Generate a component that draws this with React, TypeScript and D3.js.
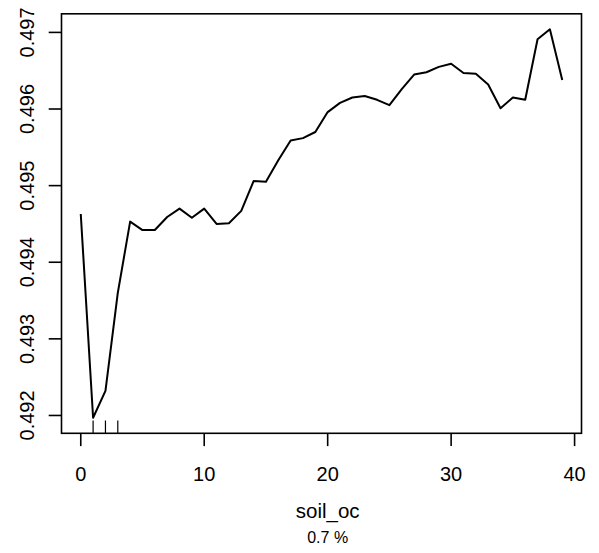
import React from "react";
import * as d3 from "d3";

const xValues: number[] = Array.from({ length: 40 }, (_, i) => i);
const yValues: number[] = [
  0.49463, 0.49197, 0.49232, 0.4936, 0.49453, 0.49442, 0.49442, 0.49459, 0.4947, 0.49458,
  0.4947, 0.4945, 0.49451, 0.49467, 0.49506, 0.49505, 0.49533, 0.49559, 0.49562, 0.4957,
  0.49596, 0.49608, 0.49615, 0.49617, 0.49612, 0.49605, 0.49626, 0.49645, 0.49648, 0.49655,
  0.49659, 0.49647, 0.49646, 0.49632, 0.49601, 0.49615, 0.49612, 0.49691, 0.49704, 0.49638,
];
const rugValues: number[] = [1, 2, 3];
const xTicks: number[] = [0, 10, 20, 30, 40];
const yTicks: number[] = [0.492, 0.493, 0.494, 0.495, 0.496, 0.497];
const xLabel = "soil_oc";
const subLabel = "0.7 %";

const W = 599;
const H = 553;
const left = 61.5;
const right = 581.5;
const top = 13.8;
const bottom = 433.3;

function pad(ext: [number, number]): [number, number] {
  const d = (ext[1] - ext[0]) * 0.04;
  return [ext[0] - d, ext[1] + d];
}

export default function App() {
  const x = d3.scaleLinear().domain(pad(d3.extent(xValues) as [number, number])).range([left, right]);
  const y = d3.scaleLinear().domain(pad(d3.extent(yValues) as [number, number])).range([bottom, top]);
  const line = d3
    .line<number>()
    .x((_, i) => x(xValues[i]))
    .y((d) => y(d));
  const font = "Liberation Sans, Arial, Helvetica, sans-serif";
  const tick = 12.8;
  return (
    <svg
      width={W}
      height={H}
      style={{ position: "absolute", left: 0, top: 0, background: "#fff" }}
      fontFamily={font}
    >
      <rect x={0} y={0} width={W} height={H} fill="#fff" />
      <path d={line(yValues) || ""} fill="none" stroke="#000" strokeWidth={2} strokeLinejoin="round" />
      {rugValues.map((r) => (
        <line key={"r" + r} x1={x(r)} x2={x(r)} y1={bottom} y2={bottom - tick} stroke="#000" strokeWidth={1.2} />
      ))}
      <rect x={left} y={top} width={right - left} height={bottom - top} fill="none" stroke="#000" strokeWidth={1.6} />
      {xTicks.map((t) => (
        <g key={"x" + t}>
          <line x1={x(t)} x2={x(t)} y1={bottom} y2={bottom + tick} stroke="#000" strokeWidth={1.6} />
          <text x={x(t)} y={481} textAnchor="middle" fontSize={20} fill="#000">
            {t}
          </text>
        </g>
      ))}
      {yTicks.map((t) => (
        <g key={"y" + t}>
          <line x1={left} x2={left - tick} y1={y(t)} y2={y(t)} stroke="#000" strokeWidth={1.6} />
          <text
            transform={`translate(33.5,${y(t)}) rotate(-90)`}
            textAnchor="middle"
            fontSize={20}
            fill="#000"
          >
            {t.toFixed(3)}
          </text>
        </g>
      ))}
      <text x={x(20)} y={518} textAnchor="middle" fontSize={20.5} fill="#000">
        {xLabel}
      </text>
      <text x={x(20)} y={543} textAnchor="middle" fontSize={16} fill="#000">
        {subLabel}
      </text>
    </svg>
  );
}
